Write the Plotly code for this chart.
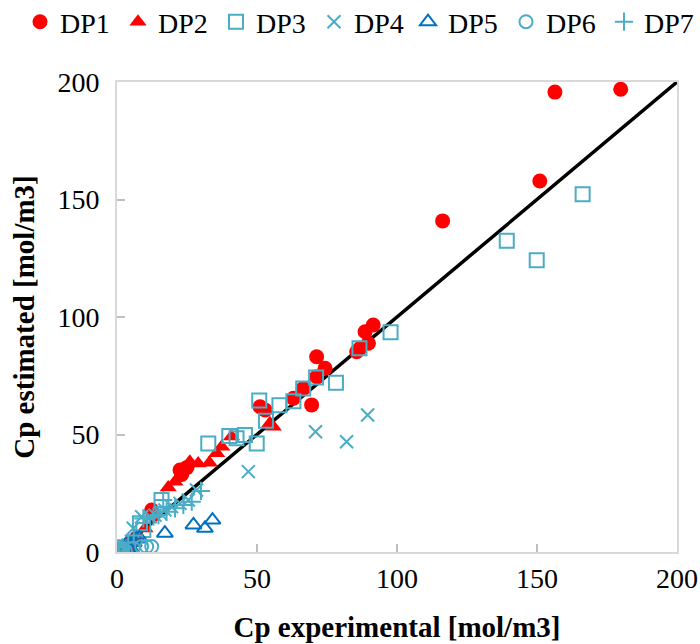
import plotly.graph_objects as go

# ---- data ----
dp1_x = [0.5, 1, 2, 3, 5, 7, 12.4, 13, 22.5, 23.1, 25, 51.1, 52.9, 63, 66.5, 69.5, 71.3, 71.3, 74.3, 85.6, 86.8, 88.6, 89.8, 91.5, 116.3, 151, 156.4, 179.9]
dp1_y = [0.5, 1, 1.5, 2, 4, 6, 17.9, 16, 34.9, 33, 36, 61.8, 60.4, 65.4, 69.6, 62.6, 74.6, 83.1, 78.2, 85.2, 86.7, 93.7, 88.8, 96.6, 140.9, 157.9, 195.7, 196.9]

dp2_x = [0.5, 1.5, 3, 5, 7, 10, 18.3, 20.7, 23.7, 26, 29, 33, 35.6, 37.4, 40.9, 54.6, 55.8]
dp2_y = [0.3, 1, 2.5, 4, 6, 10, 27.5, 29.9, 34.9, 38.4, 37.7, 38, 42, 44.8, 49.1, 54.8, 53.3]

dp3_x = [0.5, 1, 2, 8.2, 9.4, 15.9, 32.6, 40.1, 42.7, 45.7, 49.9, 50.8, 53.2, 58, 63, 66.5, 71.1, 78.2, 86.6, 97.7, 139.2, 149.9, 166.3]
dp3_y = [0.5, 1, 2, 12.2, 9.4, 22.1, 46.2, 49.4, 48.4, 49.8, 46.2, 64.5, 55.9, 62.4, 64.2, 69.6, 74.3, 72, 86.7, 93.5, 132.5, 124.1, 152.2]

dp4_x = [1, 3, 5.8, 8.8, 11.8, 13.6, 15.4, 17.1, 19.5, 22.5, 25.5, 28.4, 46.9, 70.9, 82, 89.5]
dp4_y = [1, 2, 10.1, 15, 15, 15.7, 16.5, 17.9, 19.3, 20.7, 22.1, 26.4, 34.2, 51.2, 46.9, 58.3]

dp5_x = [0.5, 1, 2, 3.5, 5.8, 4, 6, 7, 8, 5, 17.1, 27.3, 31.4, 34.1]
dp5_y = [0.5, 1, 1.5, 3.7, 5.1, 2, 4, 5.5, 6, 1.5, 8, 11.5, 10.1, 13.6]

dp6_x = [0.3, 0.8, 1.5, 2, 3, 1, 5.8, 8.8, 10.6, 12.4]
dp6_y = [0.2, 0.5, 0.3, 1, 0.5, 1.5, 1.6, 2.3, 2.3, 2.3]

dp7_x = [0.5, 2, 4, 6, 9.4, 13, 14.8, 16.5, 17.7, 20.7, 23.7, 26.7, 30]
dp7_y = [0.5, 2, 4, 7, 14.3, 15, 15.7, 22.1, 17.1, 18.6, 20, 21.4, 26]

line_x = [0, 200]
line_y = [0, 200]

RED = "#FF0000"
LB = "#4BACC6"
DB = "#0070C0"

fig = go.Figure()

fig.add_trace(go.Scatter(x=line_x, y=line_y, mode="lines",
                         line=dict(color="black", width=3.5),
                         showlegend=False, hoverinfo="skip"))

series = [
    ("DP1", dp1_x, dp1_y, "circle", RED, 15, 0, "legend"),
    ("DP2", dp2_x, dp2_y, "triangle-up", RED, 15, 0, "legend"),
    ("DP3", dp3_x, dp3_y, "square-open", LB, 14, 2, "legend"),
    ("DP4", dp4_x, dp4_y, "x-thin-open", LB, 13, 2, "legend"),
    ("DP5", dp5_x, dp5_y, "triangle-up-open", DB, 14, 2, "legend2"),
    ("DP6", dp6_x, dp6_y, "circle-open", LB, 13, 2, "legend2"),
    ("DP7", dp7_x, dp7_y, "cross-thin-open", LB, 13, 2, "legend2"),
]
for name, xs, ys, sym, col, size, lw, lg in series:
    fig.add_trace(go.Scatter(
        x=xs, y=ys, mode="markers", name=name, legend=lg,
        marker=dict(symbol=sym, color=col, size=size,
                    line=dict(color=col, width=lw)),
    ))

FONT = "Liberation Serif"
legend_common = dict(orientation="h", y=1 - 22 / 644, xref="container", yref="container",
                     yanchor="middle", xanchor="left",
                     font=dict(family=FONT, size=28, color="black"),
                     itemsizing="trace", itemwidth=30, tracegroupgap=0,
                     entrywidth=53, entrywidthmode="pixels",
                     bgcolor="rgba(0,0,0,0)")
fig.update_layout(
    width=700, height=644,
    paper_bgcolor="white", plot_bgcolor="white",
    margin=dict(l=117, r=23, t=82, b=92, autoexpand=False),
    font=dict(family=FONT, size=28, color="black"),
    legend=dict(x=20 / 700, **legend_common),
    legend2=dict(x=408 / 700, **legend_common),
    showlegend=True,
)
fig.update_xaxes(range=[0, 200], tickvals=[0, 50, 100, 150, 200],
                 showgrid=False, zeroline=False,
                 showline=True, linecolor="#D9D9D9", linewidth=2, mirror=True,
                 ticks="inside", ticklen=8, tickcolor="#BFBFBF", tickwidth=2,
                 tickfont=dict(family=FONT, size=28, color="black"),
                 title=dict(text="<b>Cp experimental [mol/m3]</b>",
                            font=dict(family=FONT, size=29, color="black"), standoff=24))
fig.update_yaxes(range=[0, 200], tickvals=[0, 50, 100, 150, 200],
                 showgrid=False, zeroline=False,
                 showline=True, linecolor="#D9D9D9", linewidth=2, mirror=True,
                 ticks="inside", ticklen=8, tickcolor="#BFBFBF", tickwidth=2,
                 tickfont=dict(family=FONT, size=28, color="black"),
                 ticklabelstandoff=10,
                 title=dict(text="<b>Cp estimated [mol/m3]</b>",
                            font=dict(family=FONT, size=29, color="black"), standoff=14))

fig.write_html("out.html")
